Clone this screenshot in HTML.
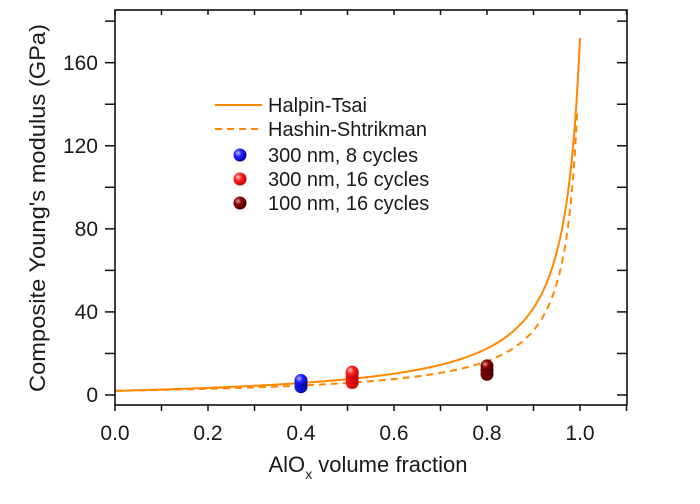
<!DOCTYPE html>
<html><head><meta charset="utf-8"><style>
html,body{margin:0;padding:0;background:#fff;width:700px;height:504px;overflow:hidden}
text{font-family:"Liberation Sans",sans-serif;fill:#1a1a1a}
</style></head><body>
<svg id="s" width="700" height="504" viewBox="0 0 700 504" xmlns="http://www.w3.org/2000/svg">
<defs>
<radialGradient id="gb" cx="0.35" cy="0.35" r="0.7"><stop offset="0" stop-color="#bbf"/><stop offset="0.4" stop-color="#22f"/><stop offset="1" stop-color="#0000a0"/></radialGradient>
<radialGradient id="gr" cx="0.35" cy="0.35" r="0.7"><stop offset="0" stop-color="#fcc"/><stop offset="0.4" stop-color="#f22"/><stop offset="1" stop-color="#b00"/></radialGradient>
<radialGradient id="gd" cx="0.35" cy="0.35" r="0.7"><stop offset="0" stop-color="#d99"/><stop offset="0.4" stop-color="#800"/><stop offset="1" stop-color="#400"/></radialGradient>
</defs>
<g id="curves"></g>
<g id="pts"></g>
<rect x="115" y="10" width="512" height="395" fill="none" stroke="#111" stroke-width="1.6"/>
<g id="ticks" stroke="#111" stroke-width="1.5"></g>
<g font-size="21" text-anchor="end">
<text x="98" y="402">0</text><text x="98" y="319">40</text><text x="98" y="236">80</text><text x="98" y="153">120</text><text x="98" y="70">160</text>
</g>
<g font-size="21" text-anchor="middle" id="xl"></g>
<text font-size="22" text-anchor="middle" textLength="368" lengthAdjust="spacingAndGlyphs" transform="translate(45,208) rotate(-90)">Composite Young's modulus (GPa)</text>
<text font-size="22" x="368" y="472" text-anchor="middle">AlO<tspan font-size="14" dy="7">x</tspan><tspan dy="-7"> volume fraction</tspan></text>
<g font-size="20">
<line x1="215" y1="105" x2="262" y2="105" stroke="#f80" stroke-width="2"/>
<line x1="215" y1="129" x2="262" y2="129" stroke="#f80" stroke-width="2" stroke-dasharray="7,5"/>
<circle cx="240" cy="155" r="6.5" fill="url(#gb)"/>
<circle cx="240" cy="179" r="6.5" fill="url(#gr)"/>
<circle cx="240" cy="203" r="6.5" fill="url(#gd)"/>
<text x="268" y="112">Halpin-Tsai</text>
<text x="268" y="136">Hashin-Shtrikman</text>
<text x="268" y="162">300 nm, 8 cycles</text>
<text x="268" y="186">300 nm, 16 cycles</text>
<text x="268" y="210">100 nm, 16 cycles</text>
</g>
</svg>
<script>
var NS="http://www.w3.org/2000/svg";
function X(v){return 115+v*465;}function Y(v){return 395-v*2.077;}
function el(t,a,p){var e=document.createElementNS(NS,t);for(var k in a)e.setAttribute(k,a[k]);document.getElementById(p).appendChild(e);return e;}
function curve(xi,vmax,dash){var Em=2,Ef=172,r=Ef/Em,eta=(r-1)/(r+xi),d="";
for(var i=0;i<=400;i++){var v=vmax*i/400;var E=Em*(1+xi*eta*v)/(1-eta*v);d+=(i?"L":"M")+X(v).toFixed(2)+","+Y(E).toFixed(2);}
var a={d:d,fill:"none",stroke:"#f80","stroke-width":2};if(dash)a["stroke-dasharray"]="7,5";el("path",a,"curves");}
curve(2,1,false);curve(1,0.994,true);
[[0.4,4,"gb"],[0.4,5.5,"gb"],[0.4,7,"gb"],[0.51,6,"gr"],[0.51,8,"gr"],[0.51,10,"gr"],[0.51,11,"gr"],[0.8,10,"gd"],[0.8,12,"gd"],[0.8,14,"gd"]].forEach(function(p){el("circle",{cx:X(p[0]),cy:Y(p[1]),r:6.5,fill:"url(#"+p[2]+")"},"pts");});
for(var i=0;i<=11;i++){var x=X(i*0.1);el("line",{x1:x,y1:405,x2:x,y2:411},"ticks");el("line",{x1:x,y1:10,x2:x,y2:15},"ticks");
if(i%2==0&&i<=10){var t=el("text",{x:x,y:440},"xl");t.textContent=(i/10).toFixed(1);}}
for(var j=0;j<=9;j++){var y=Y(j*20);if(y<10)continue;el("line",{x1:105,y1:y,x2:115,y2:y},"ticks");el("line",{x1:617,y1:y,x2:627,y2:y},"ticks");}
</script>
</body></html>
